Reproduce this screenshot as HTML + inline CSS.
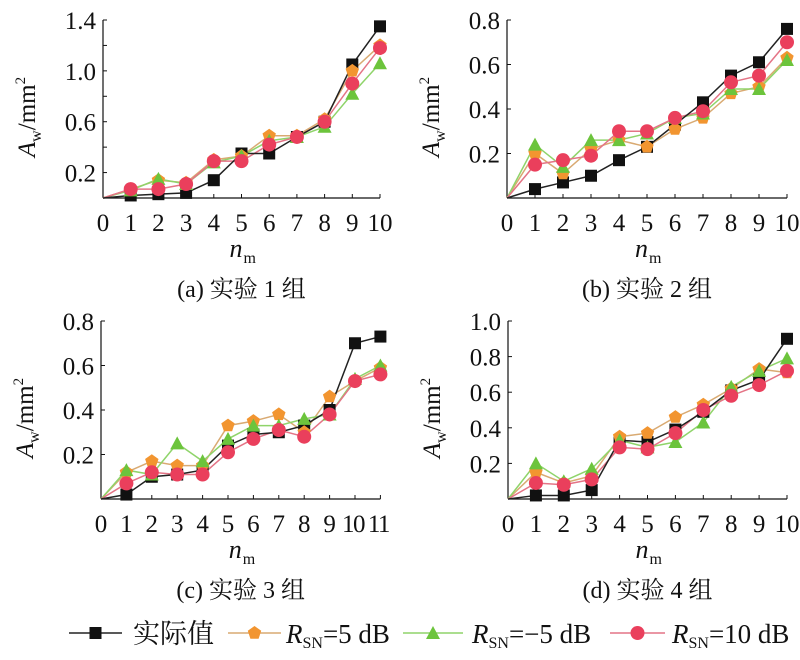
<!DOCTYPE html><html><head><meta charset="utf-8"><style>
body{margin:0;background:#fff}
svg{display:block}
text{font-family:"Liberation Serif","Noto Serif CJK SC",serif;fill:#111}
</style></head><body>
<svg id="s" width="800" height="660" xmlns="http://www.w3.org/2000/svg"></svg>
<script>
const S=document.getElementById('s');let h='';
const C={k:['#111','#222'],o:['#f29530','#d9aa72'],g:['#6cc43c','#8fd46a'],r:['#ea3f5c','#e47486']};
function mk(t,x,y){const c=C[t][0];
 if(t=='k')return `<rect x="${x-6}" y="${y-6}" width="12" height="12" fill="${c}"/>`;
 if(t=='o'){let p=[];for(let i=0;i<5;i++){let a=-Math.PI/2+i*2*Math.PI/5;p.push((x+7*Math.cos(a)).toFixed(1)+','+(y+7*Math.sin(a)).toFixed(1));}return `<polygon points="${p.join(' ')}" fill="${c}"/>`;}
 if(t=='g')return `<polygon points="${x},${y-7} ${x+7},${y+6} ${x-7},${y+6}" fill="${c}"/>`;
 return `<circle cx="${x}" cy="${y}" r="7" fill="${c}"/>`;}
function chart(cfg){const {x0,y0,dx,top,ymax,ystep,labodd,n,data,cap}=cfg;
 const sy=v=>y0-(v/ymax)*(y0-top), sx=i=>x0+i*dx;
 h+=`<line x1="${x0}" y1="${top}" x2="${x0}" y2="${y0}" stroke="#111" stroke-width="1.2"/>`;
 h+=`<line x1="${x0}" y1="${y0}" x2="${sx(n)}" y2="${y0}" stroke="#111" stroke-width="1.2"/>`;
 for(let k=1;k*ystep<=ymax+1e-9;k++){const v=k*ystep,y=sy(v);h+=`<line x1="${x0}" y1="${y}" x2="${x0+4}" y2="${y}" stroke="#111"/>`;
  if(!labodd||k%2==1)h+=`<text x="${x0-7}" y="${y+9}" font-size="25" text-anchor="end">${v.toFixed(1)}</text>`;}
 for(let i=0;i<=n;i++){h+=`<line x1="${sx(i)}" y1="${y0}" x2="${sx(i)}" y2="${y0-4}" stroke="#111"/>`;
  h+=`<text x="${sx(i)+(n==11&&i>=10?-2:0)}" y="${y0+33}" font-size="25" text-anchor="middle" ${n==11&&i>=10?'letter-spacing="-1.5"':''}>${i}</text>`;}
 const xm=(x0+sx(n))/2;
 h+=`<text x="${xm-12}" y="${y0+59}" font-size="26" font-style="italic">n</text><text x="${xm+2}" y="${y0+65}" font-size="16">m</text>`;
 h+=`<text x="${xm}" y="${y0+99}" font-size="24" text-anchor="middle">${cap}</text>`;
 const ly=(top+y0)/2+8;
 h+=`<text transform="translate(${x0-68},${ly}) rotate(-90)" font-size="25" text-anchor="middle"><tspan font-style="italic">A</tspan><tspan font-size="16" dy="6">w</tspan><tspan dy="-6">/mm</tspan><tspan font-size="15" dy="-10">2</tspan></text>`;
 for(const t of ['o','g','r','k']){const d=data[t];let p=d.map((v,i)=>sx(i)+','+sy(v)).join(' ');
  h+=`<polyline points="${p}" fill="none" stroke="${C[t][1]}" stroke-width="1.5"/>`;}
 for(const t of ['k','o','g','r']){data[t].forEach((v,i)=>{if(i>0)h+=mk(t,sx(i),sy(v));});}
}
chart({x0:103,y0:198,dx:27.7,top:20,ymax:1.4,ystep:0.2,labodd:true,n:10,cap:'(a) 实验 1 组',data:{
k:[0,.02,.03,.04,.14,.35,.35,.48,.6,1.05,1.35],o:[0,.07,.14,.12,.3,.33,.49,.49,.62,1.0,1.2],
g:[0,.06,.15,.11,.28,.33,.45,.48,.56,.82,1.06],r:[0,.07,.07,.11,.29,.29,.42,.48,.6,.9,1.18]}});
chart({x0:507,y0:198,dx:28,top:20,ymax:.8,ystep:0.2,n:10,cap:'(b) 实验 2 组',data:{
k:[0,.04,.07,.1,.17,.23,.33,.43,.55,.61,.76],o:[0,.2,.11,.22,.26,.23,.31,.36,.47,.5,.63],
g:[0,.24,.14,.26,.26,.29,.36,.38,.49,.49,.62],r:[0,.15,.17,.19,.3,.3,.36,.39,.52,.55,.7]}});
chart({x0:101,y0:499,dx:25.4,top:321,ymax:.8,ystep:0.2,n:11,cap:'(c) 实验 3 组',data:{
k:[0,.02,.1,.11,.13,.24,.29,.3,.33,.4,.7,.73],o:[0,.12,.17,.15,.15,.33,.35,.38,.3,.46,.53,.59],
g:[0,.13,.11,.25,.17,.27,.33,.33,.36,.38,.54,.6],r:[0,.07,.12,.11,.11,.21,.27,.31,.28,.38,.53,.56]}});
chart({x0:508,y0:499,dx:27.9,top:321,ymax:1.0,ystep:0.2,n:10,cap:'(d) 实验 4 组',data:{
k:[0,.02,.02,.05,.33,.32,.39,.49,.61,.67,.9],o:[0,.15,.09,.13,.35,.37,.46,.53,.62,.73,.71],
g:[0,.2,.1,.17,.33,.29,.32,.43,.63,.72,.79],r:[0,.09,.08,.11,.29,.28,.37,.5,.58,.64,.72]}});
// legend: [type, lineStart, lineEnd, textX, ...]
const L=[['k',69,122,133,'实际值'],['o',228,281,286,'=5 dB'],['g',403,463,472,'=−5 dB'],['r',610,665,672,'=10 dB']];
for(const l of L){const y=633;h+=`<line x1="${l[1]}" y1="${y}" x2="${l[2]}" y2="${y}" stroke="${C[l[0]][1]}" stroke-width="1.5"/>`+mk(l[0],(l[1]+l[2])/2,y);
 if(l[0]=='k')h+=`<text x="${l[3]}" y="${y+10}" font-size="27">${l[4]}</text>`;
 else h+=`<text x="${l[3]}" y="${y+10}" font-size="27"><tspan font-style="italic">R</tspan><tspan font-size="16" dy="5">SN</tspan><tspan dy="-5">${l[4]}</tspan></text>`;}
S.innerHTML=h;
</script></body></html>
